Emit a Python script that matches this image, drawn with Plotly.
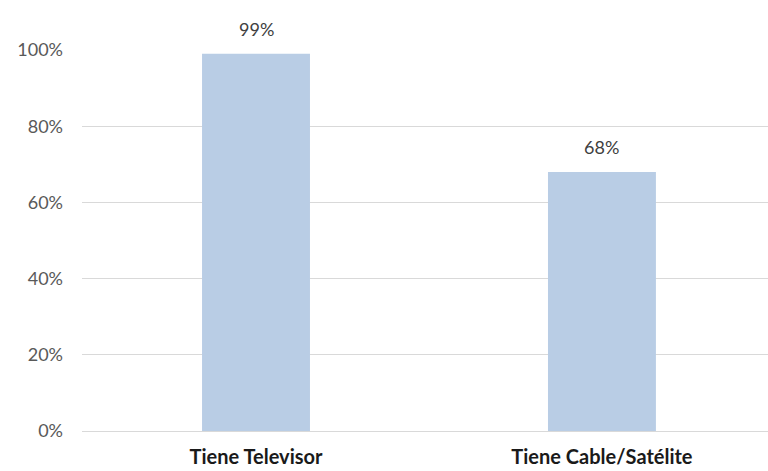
import plotly.graph_objects as go

categories = ["Tiene Televisor", "Tiene Cable/Satélite"]
values = [99, 68]
y_ticks = [0, 20, 40, 60, 80, 100]
y_tick_labels = ["0%", "20%", "40%", "60%", "80%", "100%"]

fig = go.Figure()
fig.add_trace(go.Bar(
    x=categories,
    y=values,
    width=0.312,
    marker=dict(color="#b9cde5", line=dict(width=0)),
    hoverinfo="skip",
))

# value labels above each bar
for c, v in zip(categories, values):
    fig.add_annotation(
        x=c, y=v, text=f"{v}%", showarrow=False,
        yshift=25, font=dict(family="Lato", size=18, color="#404040"),
    )

fig.update_layout(
    width=768, height=471,
    margin=dict(l=82, r=0, t=50, b=40),
    paper_bgcolor="white", plot_bgcolor="white",
    showlegend=False,
    font=dict(family="Lato", color="#595959"),
    xaxis=dict(
        range=[-0.503, 1.48],
        showgrid=False, showline=False, zeroline=False,
        ticks="", ticklabelstandoff=12,
        tickfont=dict(family="Lato", size=20, color="#1a1a1a", weight="bold"),
    ),
    yaxis=dict(
        range=[0, 100],
        tickvals=y_ticks, ticktext=y_tick_labels,
        showgrid=True, gridcolor="#d9d9d9", gridwidth=1,
        zeroline=True, zerolinecolor="#d9d9d9", zerolinewidth=1,
        showline=False, ticks="", ticklabelstandoff=18,
        tickfont=dict(family="Lato", size=18, color="#595959"),
    ),
)

fig.write_html("out.html")
